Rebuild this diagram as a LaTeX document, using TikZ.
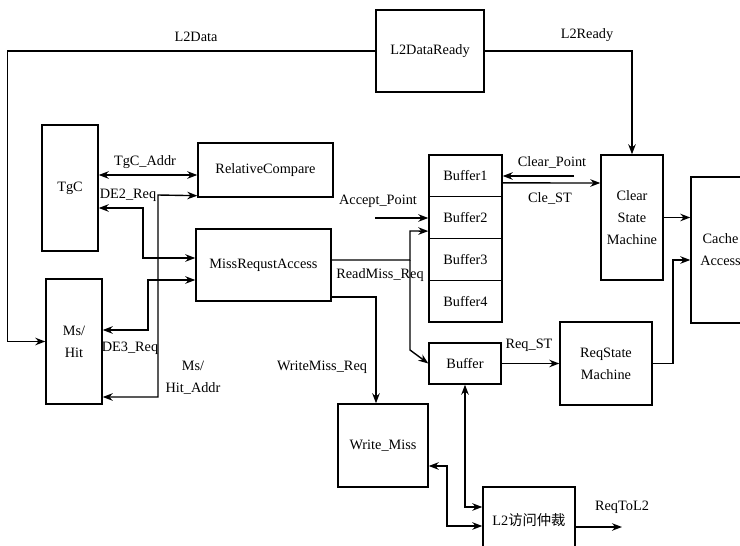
\documentclass[tikz,border=0pt]{standalone}
\usepackage{fontspec}
\setmainfont{Liberation Serif}
\newfontfamily\cjk{Noto Sans CJK SC}
\usetikzlibrary{arrows.meta}

\begin{document}
\begin{tikzpicture}[x=1pt, y=-1pt,
  every node/.style={font=\fontsize{14.3}{22}\selectfont, align=center, inner sep=1pt},
  blk/.style={draw, line width=1.4pt, inner sep=0pt},
  arr/.style={line width=1.4pt, -{Stealth[length=10pt,width=7.5pt]}},
  dbl/.style={line width=1.4pt, {Stealth[length=10pt,width=7.5pt]}-{Stealth[length=10pt,width=7.5pt]}},
]
\useasboundingbox (0,0) rectangle (740,546);
\clip (0,0) rectangle (740,546);

% blocks
\node[blk, minimum width=108, minimum height=82] (l2dr) at (430,51) {L2DataReady};
\node[blk, minimum width=56, minimum height=126] (tgc) at (70,188) {TgC};
\node[blk, minimum width=135, minimum height=54] (rc) at (265.5,170) {RelativeCompare};
\node[blk, minimum width=135, minimum height=72] (mra) at (263.5,265) {MissRequstAccess};
\node[blk, minimum width=56, minimum height=125] (mshit) at (74,341.5) {Ms/\\Hit};
\node[blk, minimum width=73, minimum height=41.75] (buf1) at (465.5,175.9) {Buffer1};
\node[blk, minimum width=73, minimum height=41.75] (buf2) at (465.5,217.6) {Buffer2};
\node[blk, minimum width=73, minimum height=41.75] (buf3) at (465.5,259.4) {Buffer3};
\node[blk, minimum width=73, minimum height=41.75] (buf4) at (465.5,301.1) {Buffer4};
\node[blk, minimum width=72, minimum height=41] (buf) at (465,363.5) {Buffer};
\node[blk, minimum width=62, minimum height=125] (csm) at (632,217.5) {Clear\\State\\Machine};
\node[blk, minimum width=59, minimum height=146] (cache) at (720.5,250) {Cache\\Access};
\node[blk, minimum width=92, minimum height=83] (rsm) at (606,363.5) {ReqState\\Machine};
\node[blk, minimum width=90, minimum height=83] (wm) at (383,445.5) {Write\_Miss};
\node[blk, minimum width=92, minimum height=66] (arb) at (529,520) {L2{\cjk 访问仲裁}};

% free ends
\coordinate (ap) at (375,218);
\coordinate (cp) at (574,176);
\coordinate (rq) at (622,527);

% connectors
\draw[arr] (l2dr.west) -| ([xshift=-38]mshit.west) -- (mshit.west);
\draw[arr] (l2dr.east) -| (csm.north);
\draw[dbl] ([yshift=13]tgc.east) -- ([yshift=-5]rc.west);
\draw[dbl] ([yshift=-20]tgc.east) -- (143,208) -- (143,258) -- ([yshift=7]mra.west);
\draw[dbl] ([yshift=11.5]mshit.east) -- (148,330) -- (148,280) -- ([yshift=-15]mra.west);
\draw[dbl] ([yshift=-55.5]mshit.east) -- (158,397) -- (158,195) -- ([yshift=2]rc.south west);
\draw[arr] (ap) -- (ap -| buf2.west);
\draw[arr] ([yshift=5]mra.east) -- (410,260) -- (410,231) -- ([yshift=-13.5]buf2.west);
\draw[arr] (410,260) -- (410,350) -- (buf.west);
\draw[arr] ([yshift=-32]mra.east) -| ([xshift=-7]wm.north);
\draw[arr] (cp) -- (cp -| buf1.east);
\draw[arr] ([yshift=-7]buf1.east) -- ([yshift=34.5]csm.west);
\draw[arr] (csm.east) -- (csm.east -| cache.west);
\draw[arr] (rsm.east) -- (673,363.5) -- (673,260) -- ([yshift=-10]cache.west);
\draw[arr] (buf.east) -- (rsm.west);
\draw[dbl] (buf.south) |- ([yshift=13]arb.west);
\draw[dbl] ([yshift=-20.5]wm.east) -- (447,466) |- ([yshift=-6]arb.west);
\draw[arr] ([yshift=-7]arb.east) -- (rq);

% labels
\node (l2data) at (196,37) {L2Data};
\node (l2ready) at (587,35) {L2Ready};
\node (tgcaddr) at (145,162) {TgC\_Addr};
\node (de2) at (128,195) {DE2\_Req};
\node (de3) at (130,348) {DE3\_Req};
\node (mshitaddr) at (193,378) {Ms/\\Hit\_Addr};
\node (accept) at (378,201) {Accept\_Point};
\node (readmiss) at (380,275) {ReadMiss\_Req};
\node (writemiss) at (322,367) {WriteMiss\_Req};
\node (clearpt) at (552,162) {Clear\_Point};
\node (clest) at (550,198) {Cle\_ST};
\node (reqst) at (529,345) {Req\_ST};
\node (reqtol2) at (622,507) {ReqToL2};

\end{tikzpicture}
\end{document}
